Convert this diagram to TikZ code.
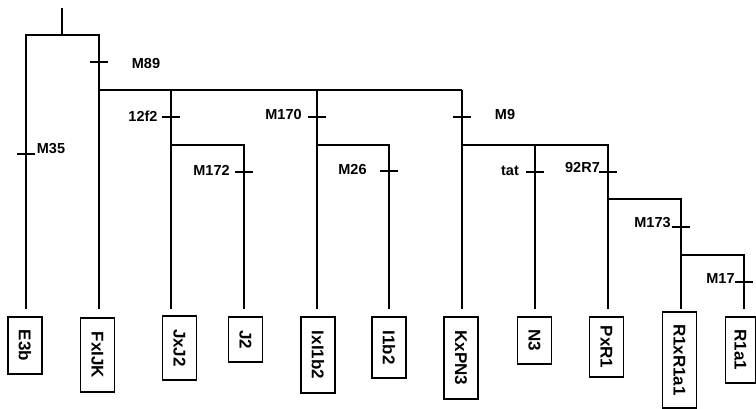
\documentclass[tikz,border=0pt]{standalone}
\usepackage{fontspec}
\setmainfont{Liberation Sans}
\begin{document}
\begin{tikzpicture}[x=1pt,y=-1pt,
  tree/.style={line width=1.7pt},
  tick/.style={line width=1.4pt},
  lbl/.style={font=\fontsize{14.5}{16}\selectfont\bfseries, inner sep=0pt},
  leaf/.style={draw, line width=1.5pt, rotate=-90, inner sep=0pt, minimum height=34pt,
    font=\fontsize{17}{19}\selectfont\bfseries}]
\useasboundingbox (0,0) rectangle (756,409);
% junctions
\coordinate (stem) at (62,8);
\coordinate (n0) at (62,35);
\coordinate (c0L) at (26,35);
\coordinate (c0R) at (99,35);
\coordinate (n1) at (99,90);
\coordinate (n2) at (171,90);
\coordinate (n2b) at (171,145);
\coordinate (n3) at (317,90);
\coordinate (n3b) at (317,145);
\coordinate (n4) at (462,90);
\coordinate (n4b) at (462,145);
\coordinate (n5) at (535,145);
\coordinate (n6) at (608,145);
\coordinate (n6b) at (608,199);
\coordinate (n7) at (681,199);
\coordinate (n7b) at (681,255);
\coordinate (n8) at (744,255);
% line ends above leaves
\coordinate (tE) at (26,309);
\coordinate (tF) at (99,309);
\coordinate (tJx) at (171,309);
\coordinate (tJ) at (244,309);
\coordinate (tIx) at (317,309);
\coordinate (tI) at (389,309);
\coordinate (tK) at (462,309);
\coordinate (tN) at (535,309);
\coordinate (tP) at (608,309);
\coordinate (tRx) at (681,309);
\coordinate (tR) at (744,309);
% leaves
\node[leaf, minimum width=57pt] (E3b) at (25,345.5) {E3b};
\node[leaf, minimum width=74pt] (FxIJK) at (97.5,355) {FxIJK};
\node[leaf, minimum width=64pt] (JxJ2) at (179.5,348) {JxJ2};
\node[leaf, minimum width=45pt] (J2) at (245.5,339.5) {J2};
\node[leaf, minimum width=76pt] (IxI1b2) at (318,355) {IxI1b2};
\node[leaf, minimum width=61pt] (I1b2) at (389,347.5) {I1b2};
\node[leaf, minimum width=82pt] (KxPN3) at (461,358) {KxPN3};
\node[leaf, minimum width=47pt] (N3) at (534.5,340.5) {N3};
\node[leaf, minimum width=60pt] (PxR1) at (606.5,347) {PxR1};
\node[leaf, minimum width=96pt] (R1xR1a1) at (679.5,360) {R1xR1a1};
\node[leaf, minimum width=66pt, minimum height=30pt] (R1a1) at (740.5,350) {R1a1};
% tree
\draw[tree] (stem) -- (n0);
\draw[tree] (tE) -- (c0L) -- (c0R) -- (tF);
\draw[tree] (n1) -- (n4);
\draw[tree] (n2) -- (tJx);
\draw[tree] (n2b) -| (tJ);
\draw[tree] (n3) -- (tIx);
\draw[tree] (n3b) -| (tI);
\draw[tree] (n4) -- (tK);
\draw[tree] (n4b) -| (tP);
\draw[tree] (n5) -- (tN);
\draw[tree] (n6b) -| (tRx);
\draw[tree] (n7b) -| (tR);
% ticks
\draw[tick] (90,62) -- (108,62);
\draw[tick] (17,154) -- (35,154);
\draw[tick] (162,117) -- (180,117);
\draw[tick] (235,172) -- (253,172);
\draw[tick] (308,117) -- (326,117);
\draw[tick] (380,171) -- (398,171);
\draw[tick] (453,117) -- (471,117);
\draw[tick] (526,172) -- (544,172);
\draw[tick] (599,172) -- (617,172);
\draw[tick] (672,227) -- (690,227);
\draw[tick] (735,282) -- (753,282);
% labels
\node[lbl] (lM89) at (146,63.5) {M89};
\node[lbl] (lM35) at (51,149) {M35};
\node[lbl] (l12f2) at (143,116) {12f2};
\node[lbl] (lM172) at (211.5,170.5) {M172};
\node[lbl] (lM170) at (283.5,115) {M170};
\node[lbl] (lM26) at (352.5,169.5) {M26};
\node[lbl] (lM9) at (505,115) {M9};
\node[lbl] (ltat) at (510,171) {tat};
\node[lbl] (l92R7) at (582.5,167.5) {92R7};
\node[lbl] (lM173) at (652.5,222.5) {M173};
\node[lbl] (lM17) at (720.5,279) {M17};
\end{tikzpicture}
\end{document}
